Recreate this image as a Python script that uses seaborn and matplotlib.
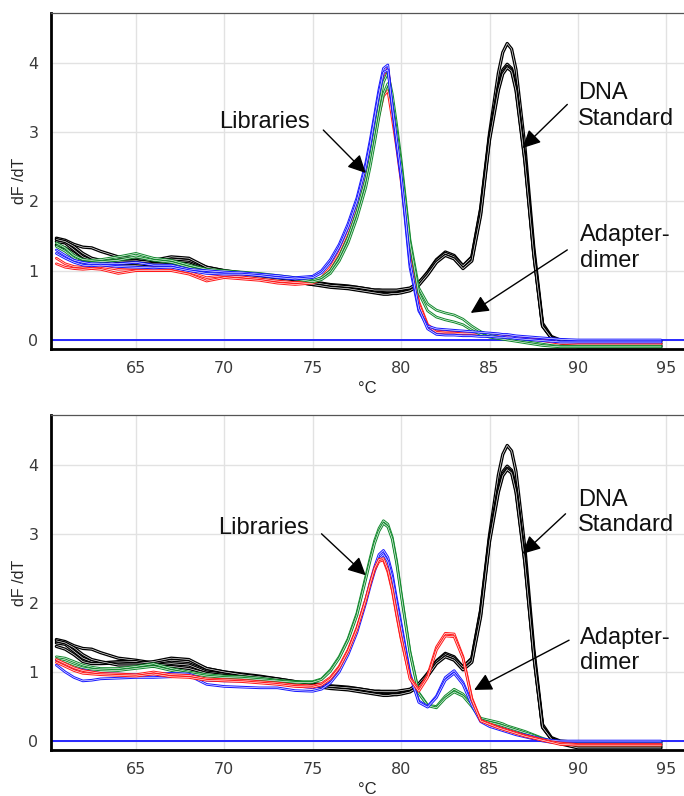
import numpy as np
import pandas as pd
import matplotlib.pyplot as plt
import matplotlib.patheffects as pe
import seaborn as sns

# Temperatura (°C) comun a todas las curvas de fusion
temp = [60.5, 61, 61.5, 62, 62.5, 63, 64, 65, 66, 67, 68, 69, 70, 71, 72, 73, 74, 75,
        75.5, 76, 76.5, 77, 77.5, 78, 78.25, 78.5, 78.75, 79, 79.25, 79.5, 79.75, 80,
        80.5, 81, 81.5, 82, 82.5, 83, 83.5, 84, 84.5, 85, 85.5, 85.75, 86, 86.25, 86.5, 87, 87.5, 88, 88.5, 89,
        90, 91, 92, 93, 94, 94.7]

# --- DNA Standard (igual en los dos paneles) ---
dna_1 = [1.47, 1.44, 1.38, 1.34, 1.33, 1.28, 1.20, 1.17, 1.13, 1.17, 1.15, 1.05, 1.00, 0.97, 0.94, 0.90, 0.86, 0.83,
         0.82, 0.80, 0.79, 0.78, 0.76, 0.74, 0.73, 0.72, 0.72, 0.71, 0.70, 0.70, 0.70, 0.71,
         0.74, 0.82, 0.98, 1.16, 1.27, 1.22, 1.07, 1.20, 1.90, 2.98, 3.85, 4.15, 4.28, 4.20, 3.90, 2.80, 1.35, 0.24, 0.05, 0.00,
         -0.02, -0.02, -0.02, -0.02, -0.02, -0.02]
dna_2 = [1.42, 1.40, 1.30, 1.20, 1.15, 1.13, 1.15, 1.15, 1.10, 1.12, 1.10, 1.00, 0.97, 0.95, 0.92, 0.88, 0.84, 0.80,
         0.80, 0.78, 0.77, 0.76, 0.74, 0.72, 0.70, 0.69, 0.68, 0.67, 0.67, 0.67, 0.68, 0.69,
         0.72, 0.80, 0.95, 1.13, 1.24, 1.18, 1.04, 1.16, 1.84, 2.92, 3.66, 3.90, 3.98, 3.92, 3.66, 2.64, 1.28, 0.21, 0.04, -0.01,
         -0.05, -0.05, -0.05, -0.05, -0.05, -0.05]
dna_3 = [1.37, 1.33, 1.25, 1.15, 1.12, 1.12, 1.13, 1.12, 1.15, 1.20, 1.18, 1.05, 1.00, 0.96, 0.93, 0.90, 0.86, 0.82,
         0.81, 0.79, 0.78, 0.77, 0.76, 0.74, 0.73, 0.72, 0.72, 0.72, 0.72, 0.72, 0.72, 0.73,
         0.75, 0.83, 0.97, 1.15, 1.25, 1.20, 1.07, 1.19, 1.88, 2.94, 3.63, 3.87, 3.95, 3.90, 3.63, 2.60, 1.25, 0.20, 0.03, -0.03,
         -0.08, -0.08, -0.08, -0.08, -0.08, -0.08]
dna_4 = [1.45, 1.42, 1.35, 1.25, 1.18, 1.15, 1.10, 1.10, 1.08, 1.08, 1.05, 0.98, 0.95, 0.93, 0.90, 0.87, 0.84, 0.80,
         0.78, 0.76, 0.75, 0.74, 0.72, 0.70, 0.69, 0.68, 0.67, 0.66, 0.66, 0.67, 0.67, 0.68,
         0.71, 0.79, 0.94, 1.12, 1.22, 1.17, 1.03, 1.14, 1.80, 2.88, 3.60, 3.84, 3.93, 3.88, 3.60, 2.58, 1.24, 0.20, 0.03, -0.04,
         -0.10, -0.10, -0.10, -0.10, -0.10, -0.10]

# --- Panel superior: librerias ---
top_blue_1 = [1.30, 1.22, 1.15, 1.12, 1.10, 1.10, 1.10, 1.12, 1.08, 1.08, 1.02, 1.00, 0.98, 0.97, 0.95, 0.93, 0.90, 0.92,
              1.00, 1.16, 1.38, 1.68, 2.05, 2.55, 2.88, 3.25, 3.62, 3.92, 3.97, 3.35, 2.80, 2.33,
              1.05, 0.42, 0.20, 0.16, 0.15, 0.14, 0.13, 0.12, 0.11, 0.10, 0.09, 0.08, 0.08, 0.07, 0.06, 0.05, 0.04, 0.03, 0.02, 0.01,
              0.00, 0.00, 0.00, 0.00, 0.00, 0.00]
top_blue_2 = [1.25, 1.18, 1.12, 1.08, 1.07, 1.08, 1.06, 1.05, 1.04, 1.05, 1.00, 0.96, 0.95, 0.95, 0.93, 0.90, 0.88, 0.90,
              0.97, 1.12, 1.34, 1.63, 2.00, 2.50, 2.82, 3.20, 3.56, 3.86, 3.90, 3.38, 2.88, 2.38,
              1.12, 0.45, 0.16, 0.08, 0.07, 0.07, 0.06, 0.06, 0.05, 0.05, 0.04, 0.04, 0.03, 0.03, 0.02, 0.01, 0.00, -0.01, -0.02, -0.03,
              -0.03, -0.03, -0.03, -0.03, -0.03, -0.03]
top_red_1 = [1.18, 1.10, 1.06, 1.05, 1.06, 1.06, 1.02, 1.03, 1.04, 1.03, 0.98, 0.90, 0.93, 0.91, 0.88, 0.85, 0.83, 0.84,
             0.90, 1.05, 1.27, 1.56, 1.93, 2.42, 2.75, 3.12, 3.50, 3.82, 3.92, 3.45, 2.98, 2.45,
             1.25, 0.55, 0.22, 0.13, 0.12, 0.11, 0.11, 0.10, 0.10, 0.09, 0.08, 0.07, 0.06, 0.05, 0.05, 0.03, 0.01, 0.00, -0.02, -0.04,
             -0.05, -0.05, -0.05, -0.05, -0.05, -0.05]
top_red_2 = [1.10, 1.05, 1.03, 1.02, 1.03, 1.02, 0.96, 1.00, 1.00, 1.00, 0.95, 0.85, 0.90, 0.88, 0.86, 0.82, 0.80, 0.82,
             0.88, 1.00, 1.20, 1.48, 1.82, 2.28, 2.58, 2.90, 3.25, 3.52, 3.60, 3.20, 2.78, 2.30,
             1.20, 0.52, 0.20, 0.11, 0.10, 0.10, 0.09, 0.09, 0.08, 0.08, 0.07, 0.06, 0.05, 0.05, 0.04, 0.02, 0.01, -0.01, -0.03, -0.05,
             -0.06, -0.06, -0.06, -0.06, -0.06, -0.06]
top_green_1 = [1.40, 1.33, 1.22, 1.16, 1.15, 1.16, 1.20, 1.25, 1.18, 1.15, 1.08, 1.02, 1.00, 0.98, 0.96, 0.93, 0.90, 0.86,
               0.90, 1.00, 1.20, 1.48, 1.85, 2.32, 2.63, 3.00, 3.38, 3.72, 3.86, 3.55, 3.10, 2.60,
               1.45, 0.75, 0.52, 0.43, 0.39, 0.36, 0.30, 0.20, 0.12, 0.07, 0.04, 0.03, 0.02, 0.01, 0.00, -0.02, -0.04, -0.06, -0.08, -0.09,
               -0.09, -0.09, -0.09, -0.09, -0.09, -0.09]
top_green_2 = [1.35, 1.28, 1.18, 1.12, 1.12, 1.13, 1.15, 1.20, 1.15, 1.12, 1.05, 0.98, 0.97, 0.96, 0.94, 0.91, 0.88, 0.84,
               0.87, 0.96, 1.14, 1.40, 1.76, 2.20, 2.50, 2.85, 3.22, 3.55, 3.70, 3.42, 3.00, 2.52,
               1.40, 0.68, 0.42, 0.33, 0.29, 0.26, 0.22, 0.14, 0.08, 0.04, 0.02, 0.01, 0.00, -0.01, -0.02, -0.04, -0.06, -0.08, -0.09, -0.10,
               -0.10, -0.10, -0.10, -0.10, -0.10, -0.10]

# --- Panel inferior: librerias con adapter-dimer ---
bot_green_1 = [1.22, 1.20, 1.15, 1.10, 1.07, 1.05, 1.05, 1.08, 1.12, 1.05, 1.00, 0.96, 0.94, 0.93, 0.91, 0.88, 0.86, 0.86,
               0.90, 1.03, 1.22, 1.48, 1.85, 2.38, 2.65, 2.90, 3.08, 3.19, 3.14, 2.95, 2.60, 2.15,
               1.30, 0.70, 0.52, 0.50, 0.65, 0.75, 0.68, 0.52, 0.33, 0.30, 0.27, 0.25, 0.22, 0.20, 0.18, 0.14, 0.09, 0.04, 0.00, -0.02,
               -0.03, -0.03, -0.03, -0.03, -0.03, -0.03]
bot_green_2 = [1.18, 1.15, 1.10, 1.06, 1.04, 1.03, 1.02, 1.05, 1.08, 1.02, 0.98, 0.94, 0.92, 0.91, 0.89, 0.87, 0.85, 0.85,
               0.89, 1.01, 1.20, 1.46, 1.82, 2.34, 2.61, 2.86, 3.04, 3.15, 3.10, 2.92, 2.57, 2.12,
               1.28, 0.69, 0.51, 0.48, 0.62, 0.71, 0.65, 0.50, 0.31, 0.27, 0.24, 0.22, 0.20, 0.18, 0.16, 0.12, 0.08, 0.03, -0.01, -0.04,
               -0.06, -0.06, -0.06, -0.06, -0.06, -0.06]
bot_blue_1 = [1.17, 1.10, 1.05, 1.03, 1.00, 0.98, 0.97, 0.96, 0.97, 0.98, 0.97, 0.88, 0.87, 0.87, 0.85, 0.83, 0.80, 0.77,
              0.80, 0.88, 1.05, 1.30, 1.62, 2.05, 2.30, 2.52, 2.70, 2.76, 2.66, 2.42, 2.05, 1.70,
              0.98, 0.58, 0.50, 0.65, 0.92, 1.02, 0.85, 0.55, 0.30, 0.24, 0.20, 0.18, 0.16, 0.14, 0.12, 0.09, 0.06, 0.03, 0.01, 0.00,
              0.00, 0.00, 0.00, 0.00, 0.00, 0.00]
bot_blue_2 = [1.10, 1.00, 0.92, 0.87, 0.88, 0.90, 0.91, 0.92, 0.92, 0.93, 0.95, 0.82, 0.79, 0.78, 0.77, 0.77, 0.73, 0.72,
              0.75, 0.84, 1.00, 1.25, 1.57, 2.00, 2.24, 2.46, 2.63, 2.70, 2.60, 2.36, 2.00, 1.65,
              0.95, 0.56, 0.49, 0.63, 0.88, 0.98, 0.82, 0.52, 0.28, 0.21, 0.17, 0.15, 0.13, 0.11, 0.09, 0.06, 0.03, 0.00, -0.02, -0.03,
              -0.04, -0.04, -0.04, -0.04, -0.04, -0.04]
bot_red_1 = [1.18, 1.12, 1.06, 1.02, 1.00, 0.98, 0.97, 0.96, 1.00, 0.96, 0.95, 0.90, 0.89, 0.88, 0.86, 0.84, 0.81, 0.80,
             0.83, 0.92, 1.08, 1.32, 1.64, 2.05, 2.28, 2.48, 2.60, 2.62, 2.45, 2.18, 1.82, 1.48,
             0.92, 0.75, 0.95, 1.36, 1.56, 1.55, 1.22, 0.62, 0.30, 0.25, 0.20, 0.18, 0.16, 0.14, 0.12, 0.08, 0.05, 0.02, -0.01, -0.03,
             -0.05, -0.05, -0.05, -0.05, -0.05, -0.05]
bot_red_2 = [1.14, 1.08, 1.02, 0.98, 0.97, 0.96, 0.95, 0.94, 0.97, 0.93, 0.92, 0.88, 0.87, 0.86, 0.84, 0.82, 0.79, 0.78,
             0.81, 0.90, 1.06, 1.30, 1.62, 2.04, 2.28, 2.50, 2.63, 2.64, 2.48, 2.20, 1.84, 1.50,
             0.90, 0.72, 0.92, 1.32, 1.52, 1.51, 1.20, 0.60, 0.29, 0.24, 0.19, 0.17, 0.15, 0.13, 0.11, 0.07, 0.04, 0.01, -0.02, -0.05,
             -0.06, -0.06, -0.06, -0.06, -0.06, -0.06]

dna_curves = [dna_1, dna_2, dna_3, dna_4]
top_libs = [(top_red_1, 'red'), (top_red_2, 'red'), (top_green_1, 'green'), (top_green_2, 'green'),
            (top_blue_1, 'blue'), (top_blue_2, 'blue')]
bot_libs = [(bot_green_1, 'green'), (bot_green_2, 'green'), (bot_blue_1, 'blue'), (bot_blue_2, 'blue'),
            (bot_red_1, 'red'), (bot_red_2, 'red')]

colores = {'black': '#000000', 'red': '#ff1a1a', 'green': '#138a2e', 'blue': '#1a1aff'}

sns.set_style('whitegrid')
plt.rcParams['font.family'] = ['Liberation Sans', 'DejaVu Sans']

fig = plt.figure(figsize=(6.84, 7.96), dpi=100)
ax_top = fig.add_axes([0.0746, 0.5616, 0.9254, 0.4221])
ax_bot = fig.add_axes([0.0746, 0.0578, 0.9254, 0.4208])


def curva(ax, y, color, ancho=1.9):
    # linea "hueca": borde de color con centro blanco, como el software del equipo
    sns.lineplot(x=temp, y=y, estimator=None, color='white', lw=0.45, ax=ax,
                 path_effects=[pe.Stroke(linewidth=ancho, foreground=colores[color]), pe.Normal()])


def panel(ax, libs, notas):
    ax.axhline(0, color='#2828ff', lw=1.4, zorder=1)
    for y in dna_curves:
        curva(ax, y, 'black', 2.3)
    for y, c in libs:
        curva(ax, y, c)

    ax.set_xlim(60.2, 96)
    ax.set_ylim(-0.13, 4.72)
    ax.set_xticks([65, 70, 75, 80, 85, 90, 95])
    ax.set_yticks([0, 1, 2, 3, 4])
    ax.grid(True, color='#e2e2e2', lw=1)
    for lado in ['left', 'bottom']:
        ax.spines[lado].set_color('black')
        ax.spines[lado].set_linewidth(2)
    ax.spines['top'].set_color('#555555')
    ax.spines['top'].set_linewidth(0.9)
    ax.spines['right'].set_visible(False)
    ax.tick_params(length=4, width=1, color='#333333', labelsize=11.5,
                   labelcolor='#3a3a3a', pad=5)
    for lab in ax.get_xticklabels() + ax.get_yticklabels():
        lab.set_family('DejaVu Sans')
    ax.set_xlabel('°C', fontsize=12, labelpad=3)
    ax.set_ylabel('dF /dT', fontsize=11.5, labelpad=1)

    flecha = dict(arrowstyle='-|>,head_length=0.6,head_width=0.3', color='black',
                  lw=1, mutation_scale=18, shrinkA=0, shrinkB=0)
    (lib_txt, lib_a, lib_b), (dna_txt, dna_a, dna_b), (ad_txt, ad_a, ad_b) = notas
    ax.text(*lib_txt, 'Libraries', fontsize=17, ha='center', va='center', color='#111111')
    ax.annotate('', xy=lib_b, xytext=lib_a, arrowprops=flecha)
    ax.text(*dna_txt, 'DNA\nStandard', fontsize=17, ha='left', va='center', color='#111111')
    ax.annotate('', xy=dna_b, xytext=dna_a, arrowprops=flecha)
    ax.text(*ad_txt, 'Adapter-\ndimer', fontsize=17, ha='left', va='center', color='#111111')
    ax.annotate('', xy=ad_b, xytext=ad_a, arrowprops=flecha)


panel(ax_top, top_libs,
      [((72.3, 3.14), (75.6, 3.03), (78.0, 2.41)),
       ((90.0, 3.38), (89.4, 3.40), (86.87, 2.77)),
       ((90.1, 1.33), (89.4, 1.30), (83.94, 0.39))])
panel(ax_bot, bot_libs,
      [((72.2, 3.09), (75.5, 3.00), (78.0, 2.40)),
       ((90.0, 3.31), (89.3, 3.29), (86.87, 2.71)),
       ((90.1, 1.31), (89.5, 1.46), (84.13, 0.74))])

plt.savefig('out.png', dpi=100)
plt.close()
